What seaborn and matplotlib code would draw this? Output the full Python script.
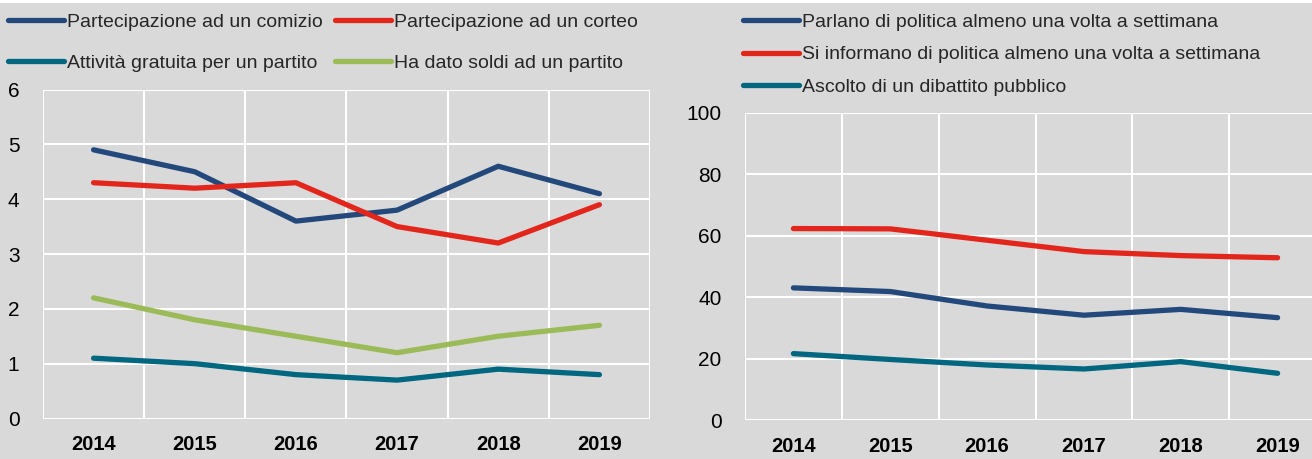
import numpy as np
import pandas as pd
import matplotlib
matplotlib.use("Agg")
import matplotlib.pyplot as plt
from matplotlib.patches import Rectangle
import seaborn as sns

years = ["2014", "2015", "2016", "2017", "2018", "2019"]

left_labels = ["Partecipazione ad un comizio", "Partecipazione ad un corteo",
               "Attività gratuita per un partito", "Ha dato soldi ad un partito"]
comizio = [4.9, 4.5, 3.6, 3.8, 4.6, 4.1]
corteo = [4.3, 4.2, 4.3, 3.5, 3.2, 3.9]
attivita = [1.1, 1.0, 0.8, 0.7, 0.9, 0.8]
soldi = [2.2, 1.8, 1.5, 1.2, 1.5, 1.7]

right_labels = ["Parlano di politica almeno una volta a settimana",
                "Si informano di politica almeno una volta a settimana",
                "Ascolto di un dibattito pubblico"]
parlano = [43.0, 41.8, 37.1, 34.1, 36.0, 33.3]
informano = [62.3, 62.2, 58.5, 54.8, 53.5, 52.8]
dibattito = [21.6, 19.7, 17.9, 16.6, 19.0, 15.2]

left_ticks = [0, 1, 2, 3, 4, 5, 6]
right_ticks = [0, 20, 40, 60, 80, 100]

BLUE = "#23497c"
RED = "#e3261c"
TEAL = "#006781"
GREEN = "#9bbb59"
BG = "#d9d9d9"

sns.set_style("whitegrid", {"axes.facecolor": BG, "figure.facecolor": BG,
                            "grid.color": "white"})
FONT = ["Liberation Sans Narrow", "Liberation Sans", "DejaVu Sans"]
plt.rcParams["font.family"] = FONT

def long_df(labels, series):
    rows = []
    for lab, vals in zip(labels, series):
        for y, v in zip(years, vals):
            rows.append({"anno": y, "valore": v, "serie": lab})
    return pd.DataFrame(rows)

fig = plt.figure(figsize=(13.12, 4.59), dpi=100)
fig.patch.set_facecolor(BG)
fig.patches.append(Rectangle((0, 1 - 3 / 459), 1, 3 / 459, transform=fig.transFigure,
                             facecolor="white", edgecolor="none", zorder=0))

axL = fig.add_axes([43 / 1312, 40.5 / 459, 607 / 1312, 329 / 459])
axR = fig.add_axes([745 / 1312, 39 / 459, 581 / 1312, 307.3 / 459])

dfL = long_df(left_labels, [comizio, corteo, attivita, soldi])
dfR = long_df(right_labels, [parlano, informano, dibattito])

sns.lineplot(data=dfL, x="anno", y="valore", hue="serie", hue_order=left_labels,
             palette=[BLUE, RED, TEAL, GREEN], linewidth=3.8, ax=axL, legend=False,
             solid_capstyle="round", solid_joinstyle="round")
sns.lineplot(data=dfR, x="anno", y="valore", hue="serie", hue_order=right_labels,
             palette=[BLUE, RED, TEAL], linewidth=3.8, ax=axR, legend=False,
             solid_capstyle="round", solid_joinstyle="round")

for ax, ticks in ((axL, left_ticks), (axR, right_ticks)):
    ax.set_xlim(-0.5, 5.5)
    ax.set_ylim(ticks[0], ticks[-1])
    ax.set_yticks(ticks)
    ax.set_yticklabels([str(t) for t in ticks], fontsize=15)
    ax.set_xticks(range(len(years)))
    ax.set_xticklabels(years, fontsize=14.5, fontweight="bold")
    ax.set_xticks(np.arange(-0.5, 5.6, 1.0), minor=True)
    ax.grid(False, axis="x", which="major")
    ax.grid(True, axis="x", which="minor", color="white", linewidth=1.5)
    ax.grid(True, axis="y", which="major", color="white", linewidth=1.5)
    ax.tick_params(axis="both", which="both", length=0)
    ax.tick_params(axis="x", pad=12)
    ax.tick_params(axis="y", pad=17)
    ax.set_xlabel("")
    ax.set_ylabel("")
    for s in ax.spines.values():
        s.set_visible(False)
    for lbl in ax.get_xticklabels() + ax.get_yticklabels():
        lbl.set_color("black")

def handle(c):
    return plt.Line2D([], [], color=c, linewidth=3.8, solid_capstyle="round")

# column-major fill: col 1 = comizio, attivita ; col 2 = corteo, soldi
orderL = [0, 2, 1, 3]
colsL = [BLUE, RED, TEAL, GREEN]
fig.legend([handle(colsL[i]) for i in orderL], [left_labels[i] for i in orderL],
           loc="upper left", bbox_to_anchor=(8 / 1312, 1 - 13 / 459),
           ncol=2, frameon=False, fontsize=14, handlelength=2.9, handletextpad=0.15,
           columnspacing=0.6, labelspacing=1.2, borderpad=0, borderaxespad=0)
fig.legend([handle(c) for c in [BLUE, RED, TEAL]], right_labels,
           loc="upper left", bbox_to_anchor=(743 / 1312, 1 - 13 / 459),
           ncol=1, frameon=False, fontsize=14, handlelength=2.9, handletextpad=0.15,
           labelspacing=0.78, borderpad=0, borderaxespad=0)

fig.savefig("out.png", dpi=100, facecolor=BG)
